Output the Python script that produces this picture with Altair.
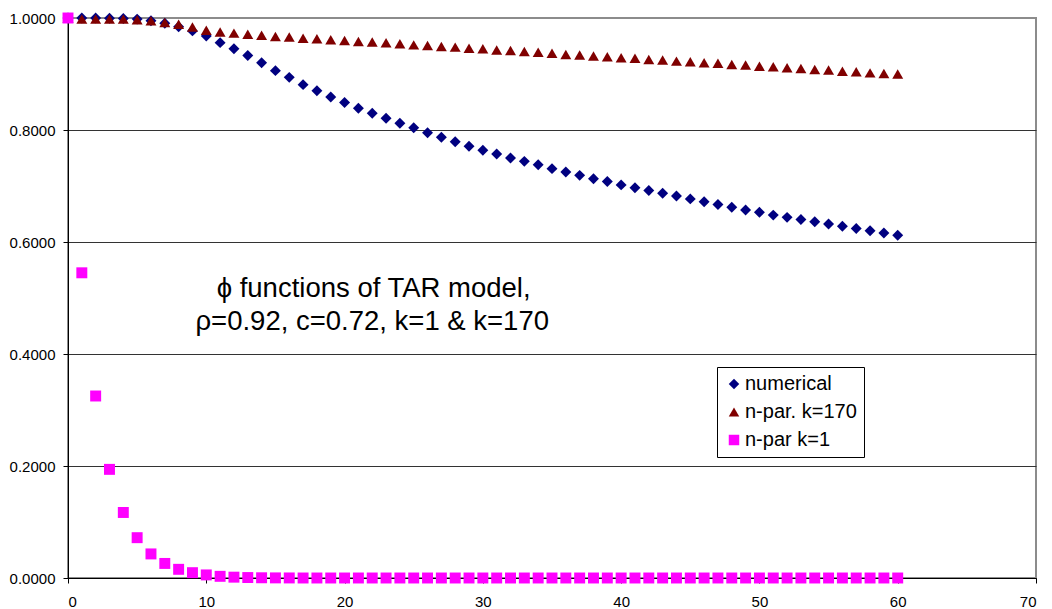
import altair as alt
import pandas as pd

# Lag index
lags = list(range(61))

# Series values, one per lag 0..60
numerical = [
    1.0, 1.0, 1.0, 0.9995, 0.999, 0.998, 0.995, 0.9905, 0.9845, 0.977,
    0.968, 0.956, 0.945, 0.933, 0.920, 0.906, 0.894, 0.881, 0.870, 0.859,
    0.849, 0.839, 0.830, 0.821, 0.812, 0.804, 0.795, 0.787, 0.779, 0.771,
    0.764, 0.757, 0.750, 0.744, 0.738, 0.731, 0.725, 0.719, 0.713, 0.708,
    0.702, 0.697, 0.692, 0.687, 0.682, 0.677, 0.672, 0.667, 0.662, 0.657,
    0.653, 0.648, 0.644, 0.640, 0.636, 0.632, 0.628, 0.624, 0.620, 0.616,
    0.612,
]
npar_k170 = [
    1.0, 0.998, 0.998, 0.998, 0.998, 0.997, 0.995, 0.992, 0.989, 0.984,
    0.978, 0.975, 0.973, 0.971, 0.969, 0.967, 0.966, 0.964, 0.963, 0.961,
    0.960, 0.958, 0.957, 0.956, 0.954, 0.952, 0.951, 0.949, 0.948, 0.946,
    0.945, 0.943, 0.942, 0.940, 0.939, 0.937, 0.935, 0.934, 0.932, 0.931,
    0.929, 0.928, 0.926, 0.925, 0.923, 0.922, 0.920, 0.919, 0.917, 0.916,
    0.914, 0.913, 0.911, 0.910, 0.908, 0.907, 0.905, 0.904, 0.902, 0.901,
    0.900,
]
npar_k1 = [
    1.0, 0.545, 0.325, 0.194, 0.117, 0.072, 0.043, 0.026, 0.0155, 0.0095,
    0.0055, 0.0030, 0.0015, 0.0008, 0.0004, 0.0002, 0.0001, 0.0, 0.0, 0.0,
    0.0, 0.0, 0.0, 0.0, 0.0, 0.0, 0.0, 0.0, 0.0, 0.0,
    0.0, 0.0, 0.0, 0.0, 0.0, 0.0, 0.0, 0.0, 0.0, 0.0,
    0.0, 0.0, 0.0, 0.0, 0.0, 0.0, 0.0, 0.0, 0.0, 0.0,
    0.0, 0.0, 0.0, 0.0, 0.0, 0.0, 0.0, 0.0, 0.0, 0.0,
    0.0,
]

series_names = ["numerical", "n-par. k=170", "n-par k=1"]
series_colors = ["#000080", "#800000", "#FF00FF"]
series_shapes = ["diamond", "triangle-up", "square"]

x_ticks = [0, 10, 20, 30, 40, 50, 60, 70]
y_ticks = [0.0, 0.2, 0.4, 0.6, 0.8, 1.0]

# In-plot caption: lines, anchor position in data units
note_lines = ["\u03d5 functions of TAR model,", "\u03c1=0.92, c=0.72, k=1 & k=170"]
note_x = [22.1, 22.0]
note_y = [0.502, 0.443]

rows = []
for name, vals in zip(series_names, [numerical, npar_k170, npar_k1]):
    for lag, v in zip(lags, vals):
        rows.append({"lag": lag, "phi": v, "series": name})
df = pd.DataFrame(rows)

notes = pd.DataFrame({"text": note_lines, "x": note_x, "y": note_y})

FONT = "Liberation Sans"

xscale = alt.Scale(domain=[0, 70], nice=False, zero=False)
yscale = alt.Scale(domain=[0, 1], nice=False)

points = alt.Chart(df).mark_point(filled=True, opacity=1, size=120).encode(
    x=alt.X("lag:Q", scale=xscale, title=None,
            axis=alt.Axis(values=x_ticks, grid=False, format="d",
                          labelPadding=11, labelFontSize=15)),
    y=alt.Y("phi:Q", scale=yscale, title=None,
            axis=alt.Axis(values=y_ticks, format=".4f", labelPadding=8,
                          labelFontSize=15, grid=True,
                          gridColor={"condition": {"test": "datum.value >= 1", "value": "#8c8c8c"},
                                     "value": "#333333"},
                          gridWidth=1)),
    color=alt.Color("series:N",
                    scale=alt.Scale(domain=series_names, range=series_colors),
                    legend=alt.Legend(title=None, orient="none", legendX=649, legendY=349,
                                      labelFontSize=20, labelFont=FONT, symbolSize=110,
                                      padding=7, rowPadding=8, labelOffset=1,
                                      strokeColor="black", fillColor="white",
                                      symbolStrokeWidth=0)),
    shape=alt.Shape("series:N",
                    scale=alt.Scale(domain=series_names, range=series_shapes),
                    legend=None),
    order=alt.Order("order:Q"),
).transform_calculate(
    order="indexof(['numerical','n-par. k=170','n-par k=1'], datum.series)"
)

caption = alt.Chart(notes).mark_text(
    font=FONT, fontSize=27.5, align="center", baseline="alphabetic", color="black"
).encode(
    x=alt.X("x:Q", scale=xscale),
    y=alt.Y("y:Q", scale=yscale),
    text="text:N",
)

chart = alt.layer(points, caption).properties(
    width=968, height=560,
    autosize=alt.AutoSizeParams(type="none"),
    padding={"left": 68, "top": 18, "right": 16, "bottom": 31},
    background="white",
).configure_view(
    stroke="#8c8c8c", strokeWidth=2
).configure_axis(
    labelFont=FONT, labelColor="black", domainColor="black", tickColor="black",
    tickSize=5, domainWidth=1, tickWidth=1
)

chart.save("out.html", embed_options={"renderer": "svg", "actions": False})
